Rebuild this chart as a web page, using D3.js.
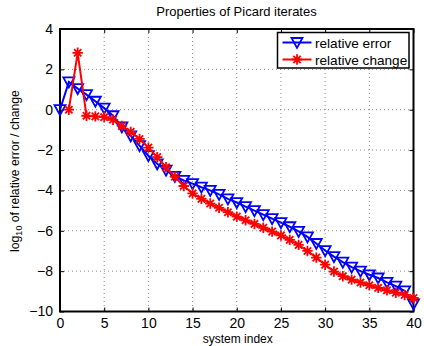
<!DOCTYPE html>
<html>
<head>
<meta charset="utf-8">
<script src="https://cdn.jsdelivr.net/npm/d3@7"></script>
<style>
  body { margin: 0; background: #fff; }
  svg { font-family: "Liberation Sans", Arial, sans-serif; }
</style>
</head>
<body>
<div id="chart"></div>
<script>
// relative error, starts at index 0
var errIndex = d3.range(0, 41);
var relError = [0, 1.38, 1.05, 0.75, 0.42, 0.08, -0.3, -0.85, -1.3, -1.78,
  -2.28, -2.68, -3.0, -3.3, -3.5, -3.66, -3.84, -4.0, -4.2, -4.42,
  -4.6, -4.8, -5.0, -5.2, -5.4, -5.6, -5.8, -6.03, -6.3, -6.63,
  -6.98, -7.28, -7.55, -7.8, -8.0, -8.18, -8.34, -8.56, -8.74, -8.98, -9.62];
// relative change, starts at index 1
var chgIndex = d3.range(1, 41);
var relChange = [0, 2.82, -0.3, -0.33, -0.37, -0.5, -0.8, -1.1, -1.45,
  -1.88, -2.35, -2.85, -3.32, -3.78, -4.15, -4.42, -4.65, -4.86, -5.08,
  -5.3, -5.48, -5.66, -5.85, -6.04, -6.23, -6.45, -6.7, -7.0, -7.33,
  -7.68, -8.02, -8.25, -8.42, -8.56, -8.7, -8.83, -8.95, -9.07, -9.18, -9.33];
var xTicks = [0, 5, 10, 15, 20, 25, 30, 35, 40];
var yTicks = [-10, -8, -6, -4, -2, 0, 2, 4];
var legendLabels = ["relative error", "relative change"];

var width = 424, height = 346;
var margin = {left: 60, right: 10.5, top: 29, bottom: 34.5};

var svg = d3.select("#chart").append("svg")
  .attr("width", width).attr("height", height);

var x = d3.scaleLinear().domain([0, 40]).range([margin.left, width - margin.right]);
var y = d3.scaleLinear().domain([-10, 4]).range([height - margin.bottom, margin.top]);

// grid
var grid = svg.append("g").attr("stroke", "#8a8a8a").attr("stroke-width", 1)
  .attr("stroke-dasharray", "1,3");
grid.selectAll("line.gx").data(xTicks.slice(1, -1)).enter().append("line")
  .attr("x1", d => x(d)).attr("x2", d => x(d))
  .attr("y1", y(4)).attr("y2", y(-10));
grid.selectAll("line.gy").data(yTicks.slice(1, -1)).enter().append("line")
  .attr("y1", d => y(d)).attr("y2", d => y(d))
  .attr("x1", x(0)).attr("x2", x(40));

// axes (ticks inside, MATLAB style)
var fmt = d => d < 0 ? "\u2212" + Math.abs(d) : String(d);
var ax = d3.axisBottom(x).tickValues(xTicks).tickSizeInner(-4).tickSizeOuter(0).tickPadding(7).tickFormat(fmt);
var ay = d3.axisLeft(y).tickValues(yTicks).tickSizeInner(-4).tickSizeOuter(0).tickPadding(7).tickFormat(fmt);
var axT = d3.axisTop(x).tickValues(xTicks).tickSizeInner(-4).tickSizeOuter(0).tickFormat("");
var ayR = d3.axisRight(y).tickValues(yTicks).tickSizeInner(-4).tickSizeOuter(0).tickFormat("");

function styleAxis(g) {
  g.select(".domain").remove();
  g.selectAll("line").attr("stroke", "#000");
  g.selectAll("text").attr("fill", "#000").style("font-size", "14px")
    .style("font-family", "'Liberation Sans', Arial, sans-serif");
}
svg.append("g").attr("transform", "translate(0," + y(-10) + ")").call(ax).call(styleAxis);
svg.append("g").attr("transform", "translate(" + x(0) + ",0)").call(ay).call(styleAxis);
svg.append("g").attr("transform", "translate(0," + y(4) + ")").call(axT).call(styleAxis);
svg.append("g").attr("transform", "translate(" + x(40) + ",0)").call(ayR).call(styleAxis);

svg.append("rect")
  .attr("x", x(0)).attr("y", y(4))
  .attr("width", x(40) - x(0)).attr("height", y(-10) - y(4))
  .attr("fill", "none").attr("stroke", "#000").attr("stroke-width", 2);

var blue = "#0000ff", red = "#ff0000";
var errData = errIndex.map((d, i) => [d, relError[i]]);
var chgData = chgIndex.map((d, i) => [d, relChange[i]]);
var line = d3.line().x(d => x(d[0])).y(d => y(d[1]));

function triangle(g) {
  g.append("path").attr("d", "M-5.5,-4.5L5.5,-4.5L0,5.5Z")
    .attr("fill", "none").attr("stroke", blue).attr("stroke-width", 1.8);
}
function star(g) {
  var r = 5.2, p = "";
  for (var k = 0; k < 4; k++) {
    var a = k * Math.PI / 4;
    p += "M" + (-r * Math.cos(a)) + "," + (-r * Math.sin(a)) + "L" + (r * Math.cos(a)) + "," + (r * Math.sin(a));
  }
  g.append("path").attr("d", p).attr("stroke", red).attr("stroke-width", 1.8);
}

svg.append("path").datum(errData).attr("d", line)
  .attr("fill", "none").attr("stroke", blue).attr("stroke-width", 2);
svg.selectAll("g.tri").data(errData).enter().append("g")
  .attr("transform", d => "translate(" + x(d[0]) + "," + y(d[1]) + ")")
  .each(function() { triangle(d3.select(this)); });

svg.append("path").datum(chgData).attr("d", line)
  .attr("fill", "none").attr("stroke", red).attr("stroke-width", 2);
svg.selectAll("g.star").data(chgData).enter().append("g")
  .attr("transform", d => "translate(" + x(d[0]) + "," + y(d[1]) + ")")
  .each(function() { star(d3.select(this)); });

// legend
var lg = svg.append("g").attr("transform", "translate(277.5,32.5)");
lg.append("rect").attr("width", 131.5).attr("height", 35.5)
  .attr("fill", "#fff").attr("stroke", "#000").attr("stroke-width", 1.5);
[blue, red].forEach(function(c, i) {
  var row = lg.append("g").attr("transform", "translate(0," + (10 + i * 17) + ")");
  row.append("line").attr("x1", 5).attr("x2", 34).attr("stroke", c).attr("stroke-width", 2);
  var m = row.append("g").attr("transform", "translate(19.5,0)");
  if (i === 0) triangle(m); else star(m);
  row.append("text").attr("x", 37.5).attr("y", 5).text(legendLabels[i])
    .style("font-size", "13.6px");
});

// title and labels
svg.append("text").attr("x", 236.5).attr("y", 16).attr("text-anchor", "middle")
  .style("font-size", "13px").text("Properties of Picard iterates");
svg.append("text").attr("x", x(20) + 1).attr("y", 343).attr("text-anchor", "middle")
  .style("font-size", "12px").text("system index");
var yl = svg.append("text").attr("transform", "translate(18.5,171) rotate(-90)")
  .attr("text-anchor", "middle").style("font-size", "12.2px");
yl.append("tspan").text("log");
yl.append("tspan").attr("dy", 3).style("font-size", "9px").text("10");
yl.append("tspan").attr("dy", -3).text(" of relative error / change");
</script>
</body>
</html>
